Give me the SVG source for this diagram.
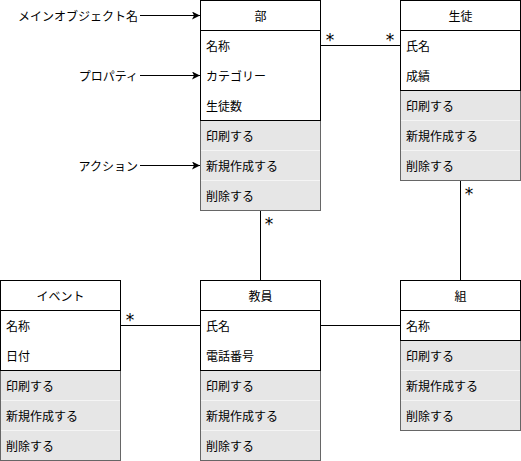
<svg xmlns="http://www.w3.org/2000/svg" width="521" height="461" viewBox="0 0 521 461">
<defs>
<marker id="arr" markerWidth="10" markerHeight="10" refX="8" refY="4" orient="auto" markerUnits="userSpaceOnUse">
<path d="M0,0 L8,4 L0,8 L2,4 Z" fill="#000"/>
</marker>
</defs>
<style>
text{font-family:"Noto Sans CJK JP","Liberation Sans",sans-serif;font-size:12px;fill:#000;dominant-baseline:central}
.hd{text-anchor:middle}
.lb{text-anchor:end}
.box{fill:#fff;stroke:#000;stroke-width:1}
.ops{fill:#e6e6e6;stroke:#666;stroke-width:1}
.sep{stroke:#f5f5f5;stroke-width:1}
.ln{stroke:#000;stroke-width:1;fill:none}
.star{font-family:"DejaVu Sans",sans-serif;font-size:17px;text-anchor:middle}
</style>
<rect width="521" height="461" fill="#fff"/>

<g id="connectors">
<line class="ln" x1="320" y1="45.5" x2="400" y2="45.5"/>
<line class="ln" x1="260.5" y1="210" x2="260.5" y2="280"/>
<line class="ln" x1="460.5" y1="180" x2="460.5" y2="280"/>
<line class="ln" x1="120" y1="325.5" x2="200" y2="325.5"/>
<line class="ln" x1="320" y1="325.5" x2="400" y2="325.5"/>
<text class="star" x="330" y="40">*</text>
<text class="star" x="390" y="40">*</text>
<text class="star" x="269" y="224">*</text>
<text class="star" x="469" y="194">*</text>
<text class="star" x="130" y="320">*</text>
</g>

<g id="annotations">
<text class="lb" x="138" y="15">メインオブジェクト名</text>
<line class="ln" x1="140" y1="15.5" x2="200" y2="15.5" marker-end="url(#arr)"/>
<text class="lb" x="138" y="75">プロパティ</text>
<line class="ln" x1="140" y1="75.5" x2="200" y2="75.5" marker-end="url(#arr)"/>
<text class="lb" x="138" y="165">アクション</text>
<line class="ln" x1="140" y1="165.5" x2="200" y2="165.5" marker-end="url(#arr)"/>
</g>

<g id="bu">
<rect class="ops" x="200.5" y="120.5" width="120" height="90"/>
<line class="sep" x1="201" y1="150.5" x2="320" y2="150.5"/>
<line class="sep" x1="201" y1="180.5" x2="320" y2="180.5"/>
<rect class="box" x="200.5" y="0.5" width="120" height="120"/>
<line class="ln" x1="200.5" y1="30.5" x2="320.5" y2="30.5"/>
<text class="hd" x="260.5" y="15">部</text>
<text x="206" y="45">名称</text>
<text x="206" y="75">カテゴリー</text>
<text x="206" y="105">生徒数</text>
<text x="206" y="135">印刷する</text>
<text x="206" y="165">新規作成する</text>
<text x="206" y="195">削除する</text>
</g>

<g id="seito">
<rect class="ops" x="400.5" y="90.5" width="120" height="90"/>
<line class="sep" x1="401" y1="120.5" x2="520" y2="120.5"/>
<line class="sep" x1="401" y1="150.5" x2="520" y2="150.5"/>
<rect class="box" x="400.5" y="0.5" width="120" height="90"/>
<line class="ln" x1="400.5" y1="30.5" x2="520.5" y2="30.5"/>
<text class="hd" x="460.5" y="15">生徒</text>
<text x="406" y="45">氏名</text>
<text x="406" y="75">成績</text>
<text x="406" y="105">印刷する</text>
<text x="406" y="135">新規作成する</text>
<text x="406" y="165">削除する</text>
</g>

<g id="event">
<rect class="ops" x="0.5" y="370.5" width="120" height="90"/>
<line class="sep" x1="1" y1="400.5" x2="120" y2="400.5"/>
<line class="sep" x1="1" y1="430.5" x2="120" y2="430.5"/>
<rect class="box" x="0.5" y="280.5" width="120" height="90"/>
<line class="ln" x1="0.5" y1="310.5" x2="120.5" y2="310.5"/>
<text class="hd" x="60.5" y="295">イベント</text>
<text x="6" y="325">名称</text>
<text x="6" y="355">日付</text>
<text x="6" y="385">印刷する</text>
<text x="6" y="415">新規作成する</text>
<text x="6" y="445">削除する</text>
</g>

<g id="kyoin">
<rect class="ops" x="200.5" y="370.5" width="120" height="90"/>
<line class="sep" x1="201" y1="400.5" x2="320" y2="400.5"/>
<line class="sep" x1="201" y1="430.5" x2="320" y2="430.5"/>
<rect class="box" x="200.5" y="280.5" width="120" height="90"/>
<line class="ln" x1="200.5" y1="310.5" x2="320.5" y2="310.5"/>
<text class="hd" x="260.5" y="295">教員</text>
<text x="206" y="325">氏名</text>
<text x="206" y="355">電話番号</text>
<text x="206" y="385">印刷する</text>
<text x="206" y="415">新規作成する</text>
<text x="206" y="445">削除する</text>
</g>

<g id="kumi">
<rect class="ops" x="400.5" y="340.5" width="120" height="90"/>
<line class="sep" x1="401" y1="370.5" x2="520" y2="370.5"/>
<line class="sep" x1="401" y1="400.5" x2="520" y2="400.5"/>
<rect class="box" x="400.5" y="280.5" width="120" height="60"/>
<line class="ln" x1="400.5" y1="310.5" x2="520.5" y2="310.5"/>
<text class="hd" x="460.5" y="295">組</text>
<text x="406" y="325">名称</text>
<text x="406" y="355">印刷する</text>
<text x="406" y="385">新規作成する</text>
<text x="406" y="415">削除する</text>
</g>
</svg>
